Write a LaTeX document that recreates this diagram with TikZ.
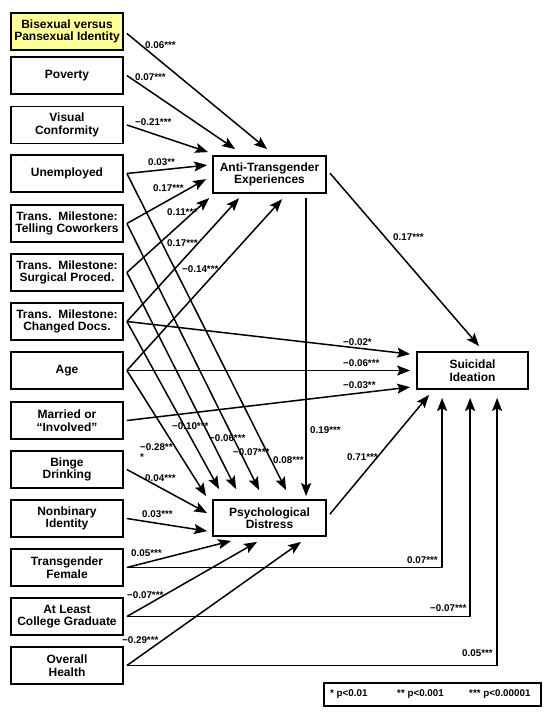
\documentclass[tikz,border=0pt]{standalone}
\usepackage{fontspec}
\setmainfont{Liberation Sans}
\usetikzlibrary{arrows.meta,calc}
\definecolor{hiyellow}{RGB}{255,255,153}
\begin{document}
\begin{tikzpicture}[x=1pt,y=-1pt,
 box/.style={draw, line width=1.8pt, minimum width=112pt, minimum height=37pt, inner sep=0pt, align=center, font=\fontsize{12}{12.5}\selectfont\bfseries},
 arr/.style={line width=1.5pt, -{Stealth[length=13pt,width=10pt,inset=2.5pt]}},
 lab/.style={font=\fontsize{9.8}{10}\selectfont\bfseries, inner sep=0pt, anchor=west},
]
\useasboundingbox (0,0) rectangle (550,717);

% left boxes
\node[box, fill=hiyellow] (b1) at (67,31.5) {Bisexual versus\\Pansexual Identity};
\node[box] (b2) at (67,75.5) {Poverty};
\node[box] (b3) at (67,125) {Visual\\Conformity};
\node[box] (b4) at (67,173.5) {Unemployed};
\node[box] (b5) at (67,223.5) {Trans.~~Milestone:\\Telling Coworkers};
\node[box] (b6) at (67,272.5) {Trans.~~Milestone:\\Surgical Proced.};
\node[box] (b7) at (67,321.5) {Trans.~~Milestone:\\Changed Docs.};
\node[box] (b8) at (67,370.5) {Age};
\node[box] (b9) at (67,420.5) {Married or\\“Involved”};
\node[box] (b10) at (67,469.5) {Binge\\Drinking};
\node[box] (b11) at (67,518.5) {Nonbinary\\Identity};
\node[box] (b12) at (67,567.5) {Transgender\\Female};
\node[box] (b13) at (67,616.5) {At Least\\College Graduate};
\node[box] (b14) at (67,665.5) {Overall\\Health};

% mediators and outcome
\node[box, minimum width=113pt] (at) at (269.5,174.5) {Anti-Transgender\\Experiences};
\node[box, minimum width=113pt, minimum height=36pt] (pd) at (269.5,518) {Psychological\\Distress};
\node[box, minimum width=111pt] (si) at (472.5,370.5) {Suicidal\\Ideation};

% legend
\node[draw, line width=1.8pt, minimum width=217pt, minimum height=23pt, inner sep=0pt] (leg) at (432.5,694.5) {};
\node[lab] (lg1) at (330,694.5) {* p<0.01};
\node[lab] (lg2) at (397,694.5) {** p<0.001};
\node[lab] (lg3) at (469,694.5) {*** p<0.00001};

% to Anti-Transgender Experiences
\draw[arr] ($(b1.east)+(3,2)$) -- ($(at.north west)+(55,-6)$);
\draw[arr] ($(b2.east)+(3,0)$) -- ($(at.north west)+(23,-6)$);
\draw[arr] ($(b3.east)+(3,0)$) -- ($(at.north west)+(-4,-3)$);
\draw[arr] ($(b4.east)+(3,0)$) -- ($(at.north west)+(-5,10)$);
\draw[arr] ($(b5.east)+(3,0)$) -- ($(at.north west)+(-6,24)$);
\draw[arr] ($(b6.east)+(3,0)$) -- ($(at.north west)+(-3,43)$);
\draw[arr] ($(b7.east)+(3,0)$) -- ($(at.north west)+(27,43)$);
\draw[arr] ($(b8.east)+(3,0)$) -- ($(at.north west)+(70,44)$);

% to Psychological Distress
\draw[arr] ($(b4.east)+(3,0)$) -- ($(pd.north west)+(74,-9)$);
\draw[arr] ($(b5.east)+(3,0)$) -- ($(pd.north west)+(47,-9)$);
\draw[arr] ($(b6.east)+(3,0)$) -- ($(pd.north west)+(24,-10)$);
\draw[arr] ($(b7.east)+(3,0)$) -- ($(pd.north west)+(7,-10)$);
\draw[arr] ($(b8.east)+(3,0)$) -- ($(pd.north west)+(-6,-3)$);
\draw[arr] ($(b10.east)+(3,0)$) -- ($(pd.north west)+(-5,14)$);
\draw[arr] ($(b11.east)+(3,0)$) -- ($(pd.north west)+(-5,32)$);
\draw[arr] ($(b12.east)+(3,0)$) -- ($(pd.south west)+(19,4)$);
\draw[arr] ($(b13.east)+(3,0)$) -- ($(pd.south west)+(45,5)$);
\draw[arr] ($(b14.east)+(3,0)$) -- ($(pd.south west)+(89,5)$);
\draw[arr] ($(at.south west)+(94,4)$) -- ($(pd.north west)+(94,-3)$);

% to Suicidal Ideation
\draw[arr] ($(at.north east)+(3,18)$) -- ($(si.north west)+(63,-5)$);
\draw[arr] ($(pd.north east)+(3,15)$) -- ($(si.south west)+(13,5)$);
\draw[arr] ($(b7.east)+(3,0)$) -- ($(si.north west)+(-6,3)$);
\draw[arr] ($(b8.east)+(3,0)$) -- ($(si.west)+(-6,0)$);
\draw[arr] ($(b9.east)+(3,0)$) -- ($(si.north west)+(-6,36)$);
\draw[arr] ($(b12.east)+(3,0)$) -| ($(si.south west)+(26,8)$);
\draw[arr] ($(b13.east)+(3,0)$) -| ($(si.south west)+(54,8)$);
\draw[arr] ($(b14.east)+(3,0)$) -| ($(si.south west)+(81,8)$);

% coefficient labels
\node[lab] (l1) at (145,45) {0.06***};
\node[lab] (l2) at (135,77) {0.07***};
\node[lab] (l3) at (135,122) {−0.21***};
\node[lab] (l4) at (148,162) {0.03**};
\node[lab] (l5) at (153,188) {0.17***};
\node[lab] (l6) at (167,212) {0.11***};
\node[lab] (l7) at (167,243) {0.17***};
\node[lab] (l8) at (182,269) {−0.14***};
\node[lab] (l9) at (393,237) {0.17***};
\node[lab] (l10) at (343,342) {−0.02*};
\node[lab] (l11) at (343,363) {−0.06***};
\node[lab] (l12) at (343,385) {−0.03**};
\node[lab] (l13) at (310,430) {0.19***};
\node[lab] (l14) at (347,457) {0.71***};
\node[lab] (l15) at (172,426) {−0.10***};
\node[lab] (l16) at (209,438) {−0.06***};
\node[lab] (l17) at (233,452) {−0.07***};
\node[lab] (l18) at (273,460) {0.08***};
\node[lab, anchor=north west, align=left] (l19) at (140,443) {−0.28**\\*};
\node[lab] (l20) at (145,478) {0.04***};
\node[lab] (l21) at (142,514) {0.03***};
\node[lab] (l22) at (131,553) {0.05***};
\node[lab] (l23) at (127,595) {−0.07***};
\node[lab] (l24) at (122,640) {−0.29***};
\node[lab] (l25) at (407,560) {0.07***};
\node[lab] (l26) at (430,608) {−0.07***};
\node[lab] (l27) at (462,653) {0.05***};
\end{tikzpicture}
\end{document}
